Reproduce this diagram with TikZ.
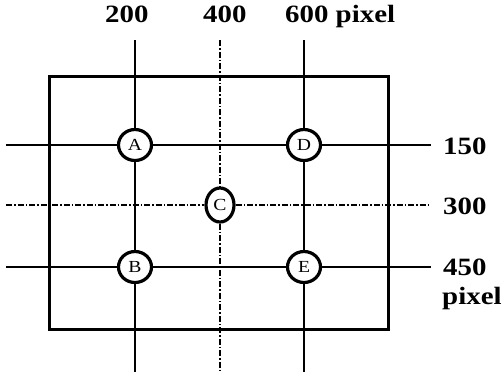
\documentclass[tikz,border=0pt]{standalone}
\usepackage{fontspec}
\setmainfont{Liberation Serif}[FakeStretch=1.16]
\usetikzlibrary{shapes.geometric}

\begin{document}
\begin{tikzpicture}[x=1bp,y=-1bp,
pt/.style ={ellipse, draw=black, line width=3.2bp, fill=white, inner sep=0pt, minimum width=33bp, minimum height=31bp, font=\fontsize{17}{19}\selectfont},
ptc/.style ={pt, minimum width=28bp, minimum height=34bp},
grid/.style ={line width=1.4bp},
mid/.style ={line width=1.4bp, dash pattern=on 6bp off 2bp on 1.5bp off 2bp},
lab/.style ={font=\fontsize{25}{28}\selectfont\bfseries, anchor=base west, inner sep=0pt}
]
\useasboundingbox (0,0) rectangle (504,378);
% frame
\draw[line width=3bp] (49,76.5) rectangle (388,329);
% points
\node[pt] (A) at (135,145) {A};
\node[pt] (B) at (135,267) {B};
\node[ptc] (C) at (220,205) {C};
\node[pt] (D) at (304,145) {D};
\node[pt] (E) at (304,267) {E};
% line ends
\coordinate (v1t) at (135,40);
\coordinate (v1b) at (135,372);
\coordinate (v2t) at (220,40);
\coordinate (v2b) at (220,372);
\coordinate (v3t) at (304,40);
\coordinate (v3b) at (304,372);
\coordinate (h1l) at (6,145);
\coordinate (h1r) at (431,145);
\coordinate (h2l) at (6,205);
\coordinate (h2r) at (431,205);
\coordinate (h3l) at (6,267);
\coordinate (h3r) at (431,267);
\draw[grid] (v1t)--(A)--(B)--(v1b);
\draw[grid] (v3t)--(D)--(E)--(v3b);
\draw[grid] (h1l)--(A)--(D)--(h1r);
\draw[grid] (h3l)--(B)--(E)--(h3r);
\draw[mid] (v2t)--(C)--(v2b);
\draw[mid] (h2l)--(C)--(h2r);
% labels
\node[lab] (l200) at (105,22) {200};
\node[lab] (l400) at (203,22) {400};
\node[lab] (l600) at (285,22) {600 pixel};
\node[lab] (l150) at (443,154) {150};
\node[lab] (l300) at (443,214) {300};
\node[lab] (l450) at (443,275) {450};
\node[lab] (lpx) at (442,304) {pixel};
\end{tikzpicture}
\end{document}
